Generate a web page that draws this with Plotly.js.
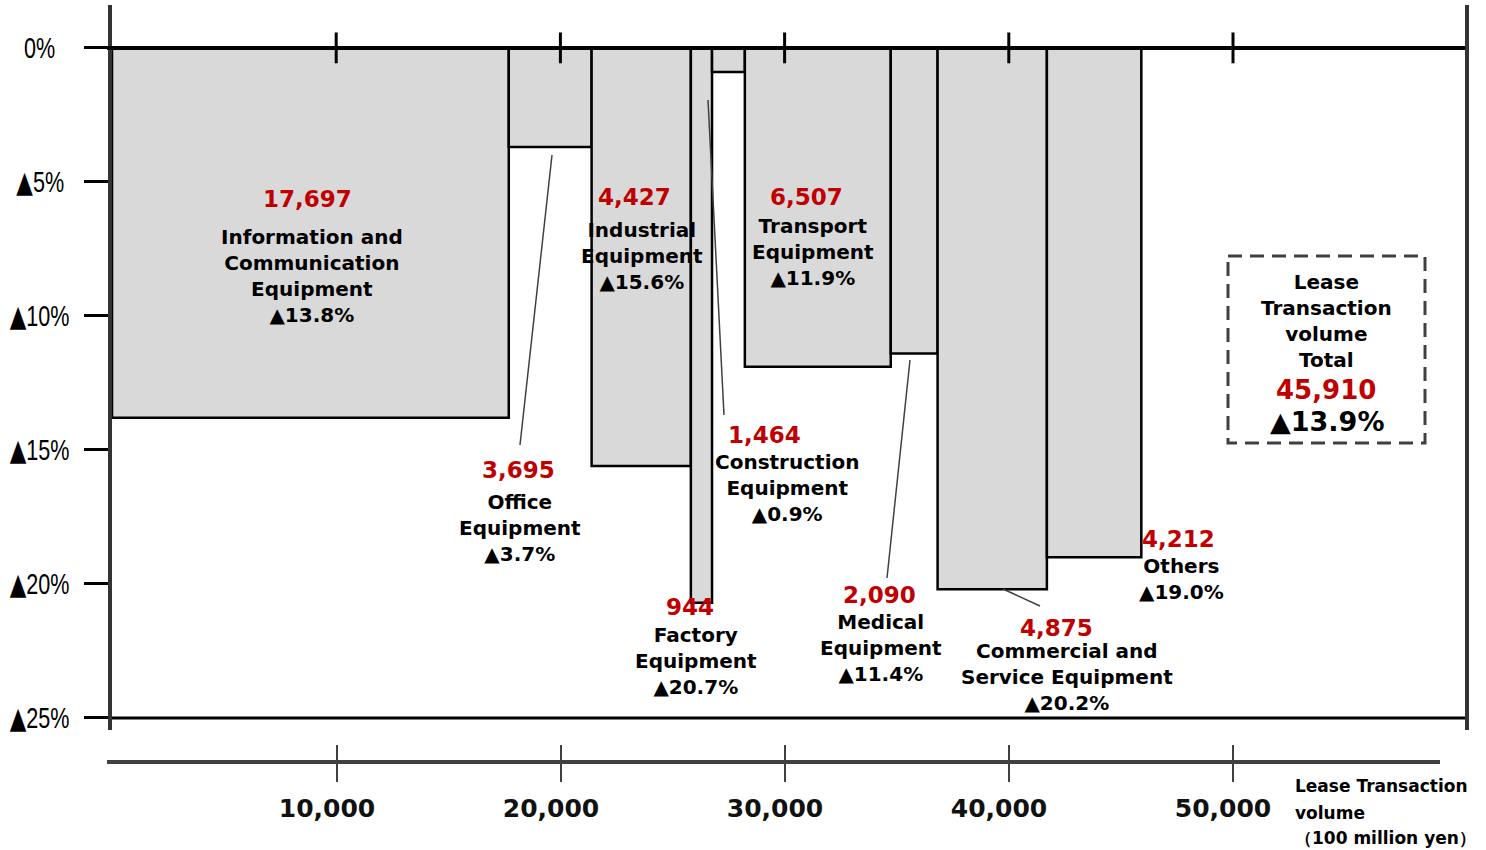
<!DOCTYPE html>
<html>
<head>
<meta charset="utf-8">
<script src="https://cdn.plot.ly/plotly-3.0.1.min.js"></script>
<style>html,body{margin:0;padding:0;background:#fff;}#chart{width:1486px;height:850px;}</style>
</head>
<body>
<div id="chart"></div>
<script>
// ---------------- DATA ----------------
const categories = ["Information and Communication Equipment","Office Equipment","Industrial Equipment","Factory Equipment","Construction Equipment","Transport Equipment","Medical Equipment","Commercial and Service Equipment","Others"];
const labelText = ["Information and<br>Communication<br>Equipment","Office<br>Equipment","Industrial<br>Equipment","Factory<br>Equipment","Construction<br>Equipment","Transport<br>Equipment","Medical<br>Equipment","Commercial and<br>Service Equipment","Others"];
const volumes = [17697, 3695, 4427, 944, 1464, 6507, 2090, 4875, 4212];
const declines = [13.8, 3.7, 15.6, 20.7, 0.9, 11.9, 11.4, 20.2, 19.0];
const totalVolume = 45910;
const totalDecline = 13.9;
const xTicks = [10000, 20000, 30000, 40000, 50000];
const xTickText = ["10,000","20,000","30,000","40,000","50,000"];
const yTicks = [0, -5, -10, -15, -20, -25];
const yTickText = ["0%","▲5%","▲10%","▲15%","▲20%","▲25%"];
const xTitleLines = ["Lease Transaction", "volume", "（100 million yen）"];

// ---------------- LAYOUT HELPERS ----------------
const ML = 100, MR = 21, MT = 5, MB = 88, W = 1486, H = 850;
const PW = W - ML - MR, PH = H - MT - MB;
const pX = px => (px - ML) / PW;
const pY = py => (H - MB - py) / PH;

// label placement (pixel centres): [redX, redY, textX, textY]
const labelPos = [
  [307,199,312,276],[518,470,520,528],[634,197,642,256],[690,607,696,661],
  [764,435,787,488],[806,197,813,252],[879,595,881,648],[1056,628,1067,677],[1178,539,1181,579]
];
// leader lines (pixel): [x0,y0,x1,y1]
const leaders = [[552,155,520,445],[708,100,724,415],[910,360,887,578],[1003,589,1040,606]];
const xTitlePos = [[1293,786],[1293,813],[1293,838]];

const FONT = "DejaVu Sans, Verdana, sans-serif";
const RED = "#c00000";

// ---------------- TRACES ----------------
const starts = [];
let acc = 0;
volumes.forEach(v => { starts.push(acc); acc += v; });
const mids = volumes.map((v, i) => starts[i] + v / 2);

const bars = {
  type: "bar", x: mids, y: declines.map(d => -d), width: volumes, base: 0,
  marker: {color: "#d9d9d9", line: {color: "#000", width: 2.5}},
  text: categories, hoverinfo: "text", textposition: "none",
  xaxis: "x", yaxis: "y", showlegend: false
};
const topTicks = {
  type: "scatter", mode: "markers", x: xTicks, y: xTicks.map(() => 0),
  marker: {symbol: "line-ns", size: 22, line: {width: 3, color: "#000"}},
  hoverinfo: "skip", showlegend: false, cliponaxis: false, xaxis: "x", yaxis: "y"
};
const dummy2 = {type: "scatter", mode: "markers", x: xTicks, y: xTicks.map(() => null), xaxis: "x2", yaxis: "y", hoverinfo: "skip", showlegend: false};
const dummy3 = {type: "scatter", mode: "markers", x: xTicks, y: xTicks.map(() => null), xaxis: "x3", yaxis: "y", hoverinfo: "skip", showlegend: false};

// ---------------- ANNOTATIONS ----------------
const ann = [];
yTicks.forEach((v, i) => ann.push({
  xref: "paper", yref: "y", x: pX(40), y: v,
  text: yTickText[i].replace("▲", '<span style="font-family:DejaVu Sans">▲</span>'),
  showarrow: false, xanchor: "center", yanchor: "middle",
  font: {family: "Liberation Sans, Arial, sans-serif", size: 30, color: "#000"}
}));
categories.forEach((c, i) => {
  const p = labelPos[i];
  ann.push({xref: "paper", yref: "paper", x: pX(p[0]), y: pY(p[1]), showarrow: false,
    xanchor: "center", yanchor: "middle", text: volumes[i].toLocaleString("en-US"),
    font: {family: FONT, size: 23, weight: 700, color: RED}});
  ann.push({xref: "paper", yref: "paper", x: pX(p[2]), y: pY(p[3]), showarrow: false,
    xanchor: "center", yanchor: "middle", align: "center",
    text: labelText[i] + "<br>▲" + declines[i].toFixed(1) + "%",
    font: {family: FONT, size: 20, weight: 700, color: "#000"}});
});
// total box
ann.push({xref: "paper", yref: "paper", x: pX(1326), y: pY(321), showarrow: false, xanchor: "center", yanchor: "middle",
  text: "Lease<br>Transaction<br>volume<br>Total", font: {family: FONT, size: 20, weight: 700, color: "#000"}});
ann.push({xref: "paper", yref: "paper", x: pX(1326), y: pY(390), showarrow: false, xanchor: "center", yanchor: "middle",
  text: totalVolume.toLocaleString("en-US"), font: {family: FONT, size: 26, weight: 700, color: RED}});
ann.push({xref: "paper", yref: "paper", x: pX(1327), y: pY(421), showarrow: false, xanchor: "center", yanchor: "middle",
  text: "▲" + totalDecline.toFixed(1) + "%", font: {family: FONT, size: 27, weight: 700, color: "#000"}});
// axis title
xTitleLines.forEach((t, i) => ann.push({xref: "paper", yref: "paper", x: pX(xTitlePos[i][0]), y: pY(xTitlePos[i][1]),
  showarrow: false, xanchor: "left", yanchor: "middle", text: t,
  font: {family: FONT, size: 17, weight: 700, color: "#000"}}));

// ---------------- SHAPES ----------------
const shapes = [
  {type: "line", xref: "x domain", yref: "y", x0: 0, x1: 1, y0: yTicks[5], y1: yTicks[5], line: {color: "#000", width: 3}},
  {type: "rect", xref: "paper", yref: "paper", x0: pX(1228), x1: pX(1425), y0: pY(256), y1: pY(443),
   line: {color: "#404040", width: 3, dash: "14px,8px"}}
];
leaders.forEach(l => shapes.push({type: "line", xref: "paper", yref: "paper",
  x0: pX(l[0]), y0: pY(l[1]), x1: pX(l[2]), y1: pY(l[3]), line: {color: "#404040", width: 1.5}}));

const axDomain2 = [pX(107), pX(1440)];
const layout = {
  width: W, height: H,
  margin: {l: ML, r: MR, t: MT, b: MB, pad: 0},
  paper_bgcolor: "#fff", plot_bgcolor: "rgba(0,0,0,0)",
  bargap: 0, showlegend: false,
  xaxis: {domain: [pX(112), 1], range: [0, 60348], showline: false, showticklabels: false, ticks: "",
          showgrid: false, zeroline: false, fixedrange: true},
  xaxis2: {domain: axDomain2, anchor: "free", position: 0, range: [-268, 59241],
           tickvals: xTicks, ticktext: xTickText, ticks: "outside", ticklen: 18, tickwidth: 2, tickcolor: "#404040",
           showline: true, linecolor: "#404040", linewidth: 4, showgrid: false, zeroline: false,
           ticklabelstandoff: 5, ticklabelshift: -10,
           tickfont: {family: FONT, size: 25, weight: 700, color: "#111"}, fixedrange: true},
  xaxis3: {domain: axDomain2, anchor: "free", position: 0, range: [-268, 59241],
           tickvals: xTicks, ticks: "inside", ticklen: 17, tickwidth: 2, tickcolor: "#404040",
           showticklabels: false, showline: false, showgrid: false, zeroline: false, fixedrange: true},
  yaxis: {domain: [pY(730), 1], range: [-25.45, 1.6], tickvals: yTicks, showticklabels: false,
          ticks: "outside", ticklen: 24, tickwidth: 3, tickcolor: "#000",
          showline: true, linecolor: "#333", linewidth: 4, mirror: true,
          zeroline: true, zerolinecolor: "#000", zerolinewidth: 4, showgrid: false,
          layer: "above traces", fixedrange: true},
  annotations: ann,
  shapes: shapes
};

Plotly.newPlot("chart", [bars, topTicks, dummy2, dummy3], layout, {displayModeBar: false, staticPlot: true}).then(gd => {
  // condense the y tick label glyphs horizontally (narrow gothic look)
  for (let i = 0; i < yTicks.length; i++) {
    const t = gd.querySelector('g.annotation[data-index="' + i + '"] text');
    if (t) {
      t.style.transformBox = "fill-box";
      t.style.transformOrigin = "center";
      t.style.transform = "scaleX(0.72)";
    }
  }
});
</script>
</body>
</html>
